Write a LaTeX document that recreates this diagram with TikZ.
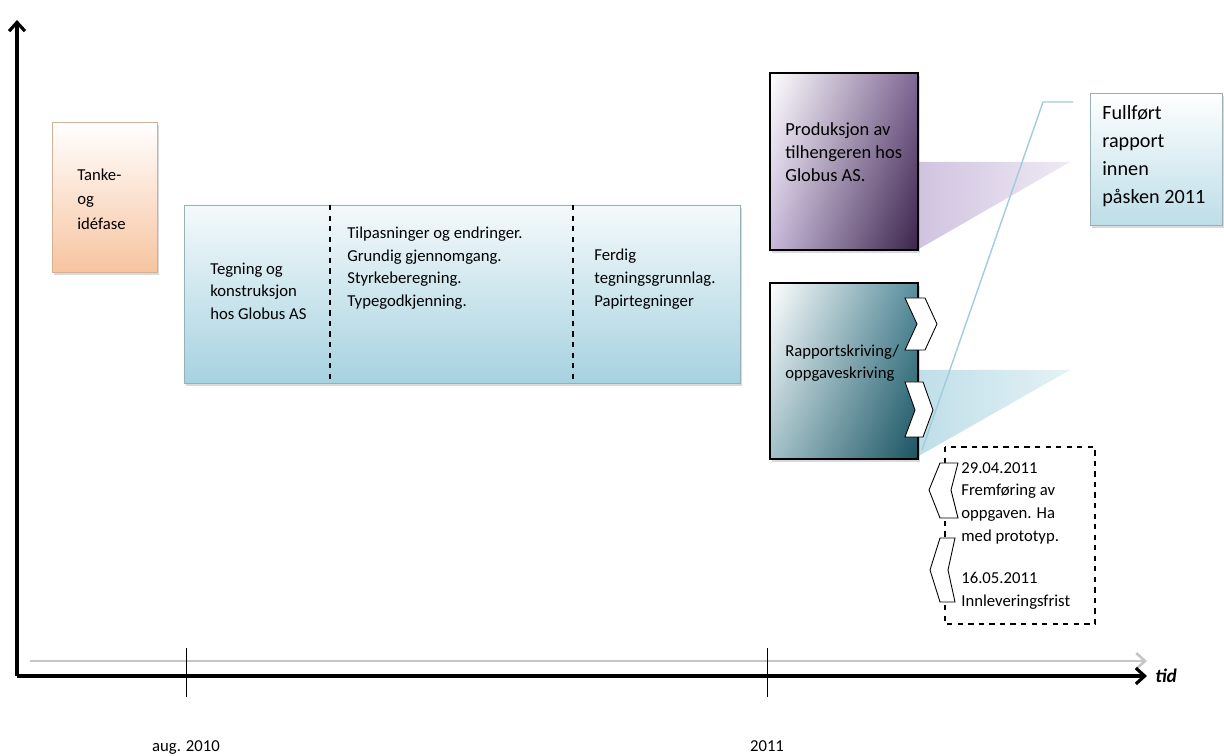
\documentclass[tikz,border=0pt]{standalone}
\usepackage{fontspec}
\setmainfont{Carlito}
\usetikzlibrary{positioning,arrows.meta,shadows,shadings}
\definecolor{peach}{RGB}{247,196,160}
\definecolor{skyblue}{RGB}{166,210,224}
\definecolor{darkplum}{RGB}{58,36,74}
\definecolor{midplum}{RGB}{128,104,150}
\definecolor{lavender}{RGB}{200,184,218}
\definecolor{darkteal}{RGB}{26,84,98}
\definecolor{midteal}{RGB}{88,142,156}
\definecolor{thinblue}{RGB}{160,205,220}

\begin{document}
\begin{tikzpicture}[x=0.02cm,y=-0.02cm,
  txt/.style={font=\fontsize{9.5}{12.9}\selectfont,align=left,anchor=west,inner sep=0pt},
  shd/.style={drop shadow={shadow xshift=1.2pt,shadow yshift=-1.5pt,opacity=0.3}},
  chev/.style={draw=black,fill=white,line width=0.5pt},
  ax/.style={line width=1.8pt,-{Straight Barb[length=5pt,width=9pt]}}]
\useasboundingbox (0,0) rectangle (1224,756);
% axes
\coordinate (orig) at (17,676);
\coordinate (ytop) at (17,20);
\coordinate (xend) at (1147,676);
\coordinate (gstart) at (30,661);
\coordinate (gend) at (1147,661);
\draw[gray!45,line width=1.5pt,-{Straight Barb[length=5pt,width=9pt]}] (gstart) -- (gend);
\draw[ax] (orig) -- (ytop);
\draw[ax] (orig) -- (xend);
\foreach \t in {186,767}
  \draw[line width=0.5pt] (\t,648) -- (\t,697);
\node[txt,anchor=base] (aug) at (186,751) {aug. 2010};
\node[txt,anchor=base] (yr) at (767,751) {2011};
\node[txt,font=\fontsize{11}{13}\selectfont\bfseries\itshape] (tid) at (1155,676) {tid};
% tanke- og idefase
\shade[shd,top color=white,bottom color=peach,draw=peach!70!gray,line width=0.4pt]
  (52,122) rectangle (157,272);
\node[txt,font=\fontsize{9.5}{14}\selectfont] (tanke) at (77,199) {Tanke-\\og\\idéfase};
% tegning og konstruksjon
\shade[shd,top color=skyblue!12,bottom color=skyblue,draw=skyblue!60!gray,line width=0.4pt]
  (184,205) rectangle (740,383);
\foreach \d in {330,573}
  \draw[dashed,line width=0.6pt] (\d,205) -- (\d,383);
\node[txt] (tegn) at (210,291) {Tegning og\\konstruksjon\\hos Globus AS};
\node[txt] (tilp) at (347,268)
  {Tilpasninger og endringer.\\Grundig gjennomgang.\\Styrkeberegning.\\Typegodkjenning.};
\node[txt] (ferdig) at (594,279) {Ferdig\\tegningsgrunnlag.\\Papirtegninger};
% wedges
\shade[left color=lavender,right color=lavender!35,opacity=0.85]
  (917,162) -- (1070,162) -- (917,250) -- cycle;
\shade[left color=skyblue!85,right color=skyblue!35,opacity=0.85]
  (917,370) -- (1070,370) -- (917,457) -- cycle;
% produksjon
\shade[shd,upper left=white,upper right=midplum,lower left=lavender,lower right=darkplum,
  draw=black,line width=0.6pt] (770,73) rectangle (918,250);
\node[txt,font=\fontsize{10.5}{13}\selectfont] (prod) at (785,152)
  {Produksjon av\\tilhengeren hos\\Globus AS.};
% rapportskriving
\shade[shd,upper left=white,upper right=midteal,lower left=midteal!55,lower right=darkteal,
  draw=black,line width=0.6pt] (770,283) rectangle (918,459);
\node[txt] (rapp) at (785,363) {Rapportskriving/\\oppgaveskriving};
\draw[chev] (905,298) -- (925,298) -- (937,324) -- (925,350) -- (905,350) -- (917,324) -- cycle;
\draw[chev] (905,382) -- (923,382) -- (933,410) -- (923,437) -- (905,437) -- (915,410) -- cycle;
% fullfort rapport
\coordinate (lnA) at (922,450);
\coordinate (lnB) at (1043,102);
\coordinate (lnC) at (1073,102);
\draw[thinblue,line width=0.8pt] (lnA) -- (lnB) -- (lnC);
\shade[shd,top color=white,bottom color=skyblue!75,draw=skyblue!60!gray,line width=0.4pt]
  (1090,93) rectangle (1222,225);
\node[txt,font=\fontsize{11.5}{15.9}\selectfont] (full) at (1102,156)
  {Fullført\\rapport\\innen\\påsken 2011};
% frister
\draw[dashed,line width=0.6pt] (945,447) rectangle (1095,624);
\draw[chev] (940,463) -- (958,463) -- (951,490) -- (958,518) -- (940,518) -- (929,490) -- cycle;
\draw[chev] (940,538) -- (955,538) -- (948,570) -- (955,602) -- (940,602) -- (930,570) -- cycle;
\node[txt] (frem) at (961,503) {29.04.2011\\Fremføring av\\oppgaven. Ha\\med prototyp.};
\node[txt] (innl) at (961,591) {16.05.2011\\Innleveringsfrist};
\end{tikzpicture}
\end{document}
